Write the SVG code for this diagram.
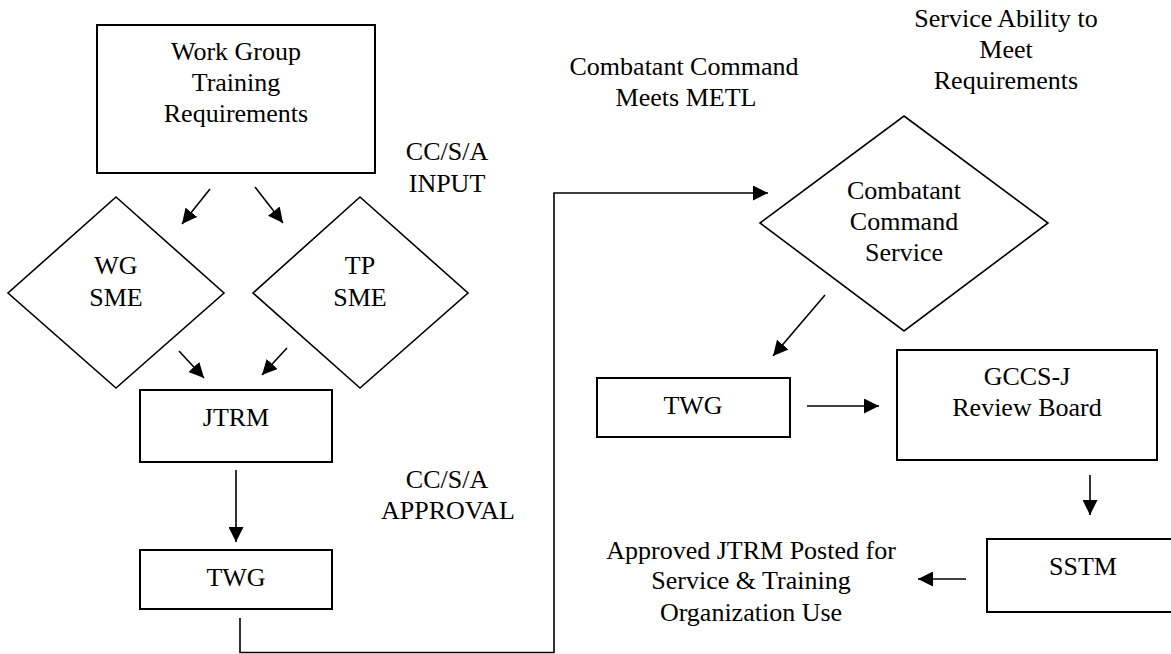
<svg xmlns="http://www.w3.org/2000/svg" width="1171" height="654" viewBox="0 0 1171 654">
<style>
text{font-family:'Liberation Serif','DejaVu Serif',serif;font-size:26px;fill:#000;text-anchor:middle}
.box{fill:#fff;stroke:#000;stroke-width:2}
.dia{fill:#fff;stroke:#000;stroke-width:1.6}
.con{fill:none;stroke:#000;stroke-width:1.6}
</style>
<defs>
<marker id="ah" markerUnits="userSpaceOnUse" markerWidth="15" markerHeight="15" refX="15" refY="7.5" orient="auto">
<path d="M0,0 L15,7.5 L0,15 z" fill="#000"/>
</marker>
</defs>
<rect width="1171" height="654" fill="#fff"/>
<g font-family="Liberation Serif, serif">
<g id="n-wgtr"><rect class="box" x="97" y="25" width="278" height="148"/>
<text x="236" y="60">Work Group</text><text x="236" y="91">Training</text><text x="236" y="122">Requirements</text></g>
<g id="n-wgsme"><polygon class="dia" points="116,197 224,293 116,388 8,293"/>
<text x="116" y="274">WG</text><text x="116" y="306">SME</text></g>
<g id="n-tpsme"><polygon class="dia" points="360,197 468,293 360,388 253,293"/>
<text x="360" y="274">TP</text><text x="360" y="306">SME</text></g>
<g id="n-jtrm"><rect class="box" x="140" y="390" width="192" height="72"/><text x="236" y="426">JTRM</text></g>
<g id="n-twg1"><rect class="box" x="140" y="550" width="192" height="59"/><text x="236" y="586">TWG</text></g>
<g id="n-ccs"><polygon class="dia" points="904,116 1048,223 904,331 760,223"/>
<text x="904" y="199">Combatant</text><text x="904" y="230">Command</text><text x="904" y="261">Service</text></g>
<g id="n-twg2"><rect class="box" x="597" y="378" width="193" height="59"/><text x="693" y="414">TWG</text></g>
<g id="n-gccs"><rect class="box" x="897" y="350" width="260" height="110"/>
<text x="1027" y="385">GCCS-J</text><text x="1027" y="416">Review Board</text></g>
<g id="n-sstm"><rect class="box" x="987" y="539" width="190" height="73"/><text x="1083" y="575">SSTM</text></g>
<g id="labels">
<text x="447" y="160">CC/S/A</text><text x="447" y="192">INPUT</text>
<text x="447" y="488">CC/S/A</text><text x="448" y="519">APPROVAL</text>
<text x="684" y="75">Combatant Command</text><text x="686" y="106">Meets METL</text>
<text x="1006" y="27">Service Ability to</text><text x="1006" y="58">Meet</text><text x="1006" y="89">Requirements</text>
<text x="751" y="559">Approved JTRM Posted for</text><text x="751" y="589">Service &amp; Training</text><text x="751" y="621">Organization Use</text>
</g>
</g>
<g id="connectors">
<line class="con" x1="210" y1="189" x2="182" y2="224" marker-end="url(#ah)"/>
<line class="con" x1="255" y1="187" x2="283" y2="223" marker-end="url(#ah)"/>
<line class="con" x1="179" y1="351" x2="204" y2="378" marker-end="url(#ah)"/>
<line class="con" x1="287" y1="348" x2="262" y2="375" marker-end="url(#ah)"/>
<line class="con" x1="236" y1="470" x2="236" y2="542" marker-end="url(#ah)"/>
<path class="con" d="M240,618 V652.5 H554 V193 H768" marker-end="url(#ah)"/>
<line class="con" x1="825" y1="295" x2="773" y2="356" marker-end="url(#ah)"/>
<line class="con" x1="807" y1="406" x2="879" y2="406" marker-end="url(#ah)"/>
<line class="con" x1="1090" y1="475" x2="1090" y2="515" marker-end="url(#ah)"/>
<line class="con" x1="966" y1="579" x2="918" y2="579" marker-end="url(#ah)"/>
</g>
</svg>
